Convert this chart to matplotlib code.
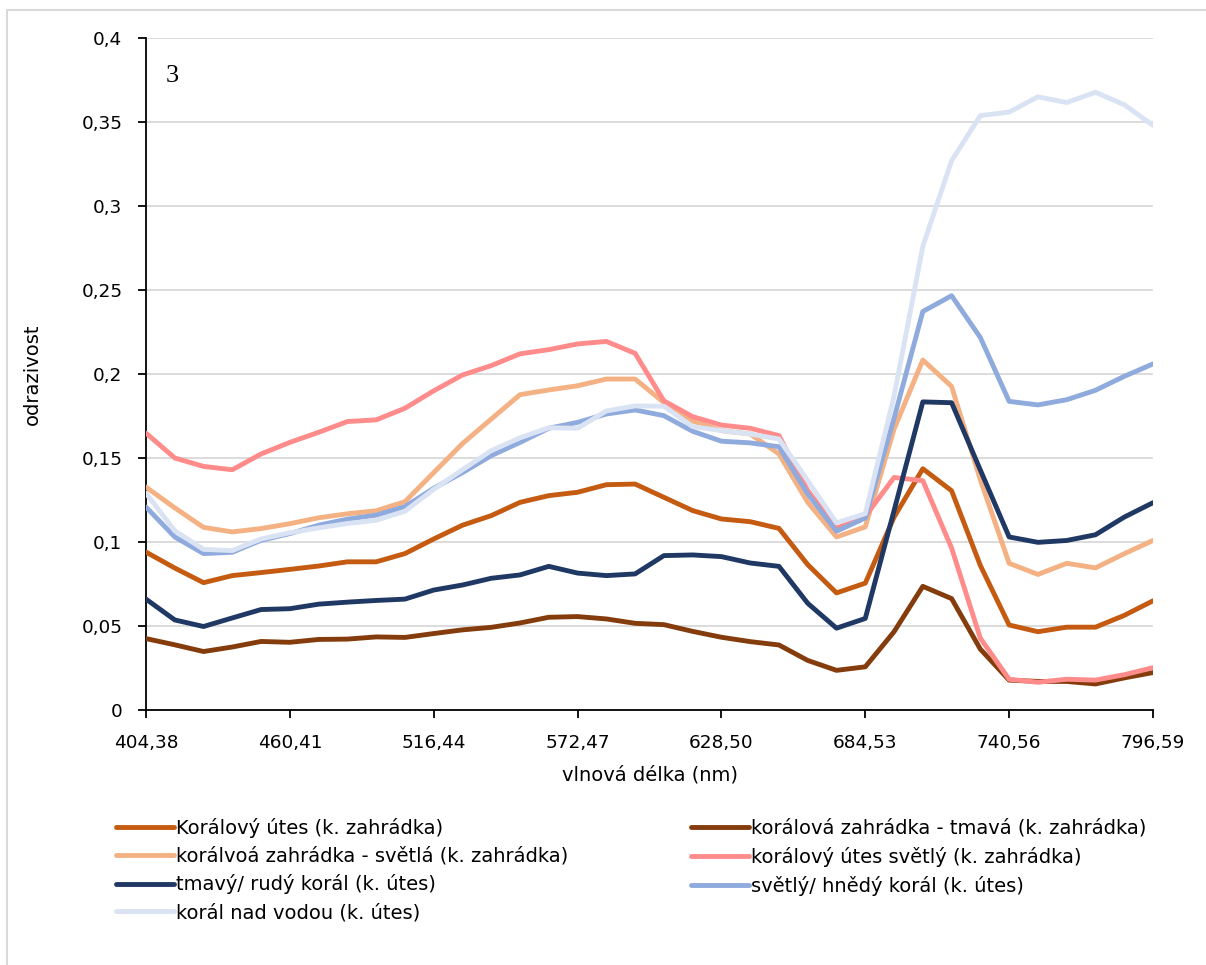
import matplotlib
matplotlib.use("Agg")
import matplotlib.pyplot as plt
from matplotlib.patches import Rectangle
from matplotlib.ticker import FuncFormatter

# vlnove delky (nm) - kategorie na ose x
wavelengths = [404.38, 415.59, 426.79, 438.00, 449.20, 460.41, 471.62, 482.82, 494.03,
               505.23, 516.44, 527.65, 538.85, 550.06, 561.26, 572.47, 583.68, 594.88,
               606.09, 617.29, 628.50, 639.71, 650.91, 662.12, 673.32, 684.53, 695.74,
               706.94, 718.15, 729.35, 740.56, 751.77, 762.97, 774.18, 785.38, 796.59]
tick_labels = [404.38, 460.41, 516.44, 572.47, 628.50, 684.53, 740.56, 796.59]

utes_zahradka = [0.094, 0.0845, 0.0758, 0.080, 0.0818, 0.0837, 0.0857, 0.0882, 0.0882,
                 0.0931, 0.1018, 0.110, 0.1157, 0.1236, 0.1276, 0.1296, 0.1341, 0.1345,
                 0.1266, 0.1187, 0.1137, 0.1121, 0.1081, 0.0865, 0.0697, 0.0755, 0.1148,
                 0.1436, 0.1305, 0.086, 0.0506, 0.0466, 0.0493, 0.0493, 0.0563, 0.065]
zahradka_tmava = [0.0425, 0.0388, 0.0348, 0.0375, 0.0408, 0.0403, 0.042, 0.0422, 0.0435,
                  0.0432, 0.0455, 0.0477, 0.0492, 0.0518, 0.0552, 0.0556, 0.0542, 0.0516,
                  0.0508, 0.0468, 0.0433, 0.0407, 0.0387, 0.0295, 0.0236, 0.0257, 0.0466,
                  0.0736, 0.0663, 0.0362, 0.0178, 0.017, 0.017, 0.0155, 0.0191, 0.0223]
zahradka_svetla = [0.1327, 0.1203, 0.1087, 0.106, 0.108, 0.1109, 0.1144, 0.1168, 0.1186,
                   0.124, 0.1413, 0.1586, 0.1732, 0.1877, 0.1905, 0.193, 0.197, 0.197,
                   0.183, 0.172, 0.1663, 0.1643, 0.1524, 0.1236, 0.103, 0.109, 0.1672,
                   0.2083, 0.1926, 0.137, 0.0873, 0.0807, 0.0873, 0.0846, 0.093, 0.1009]
utes_svetly = [0.1648, 0.150, 0.145, 0.143, 0.1524, 0.1593, 0.1653, 0.1717, 0.1727,
               0.1796, 0.190, 0.1994, 0.205, 0.212, 0.2145, 0.2179, 0.2194, 0.2123,
               0.184, 0.1746, 0.1696, 0.1677, 0.1633, 0.1306, 0.1082, 0.1153, 0.1384,
               0.1365, 0.0964, 0.0427, 0.0183, 0.0165, 0.0183, 0.0178, 0.021, 0.0252]
tmavy_rudy = [0.066, 0.0536, 0.0497, 0.0548, 0.0598, 0.0603, 0.063, 0.0642, 0.0652,
              0.066, 0.0714, 0.0744, 0.0784, 0.0804, 0.0855, 0.0815, 0.080, 0.081,
              0.0919, 0.0923, 0.0913, 0.0875, 0.0855, 0.0635, 0.0487, 0.0545, 0.1187,
              0.1834, 0.1829, 0.1428, 0.103, 0.0998, 0.1009, 0.1043, 0.1148, 0.1234]
svetly_hnedy = [0.1208, 0.103, 0.0931, 0.0939, 0.101, 0.105, 0.110, 0.1136, 0.116,
                0.121, 0.132, 0.1413, 0.1514, 0.1593, 0.1677, 0.1712, 0.1762, 0.1786,
                0.1752, 0.1659, 0.160, 0.159, 0.1567, 0.1286, 0.1064, 0.1143, 0.1737,
                0.2372, 0.2466, 0.2217, 0.1837, 0.1816, 0.1847, 0.1903, 0.1986, 0.206]
nad_vodou = [0.129, 0.1067, 0.0956, 0.0949, 0.1018, 0.1055, 0.1084, 0.111, 0.1129,
             0.1183, 0.1314, 0.143, 0.1544, 0.162, 0.168, 0.1677, 0.178, 0.181,
             0.1808, 0.1687, 0.1663, 0.1643, 0.1613, 0.1365, 0.1114, 0.1169, 0.1868,
             0.276, 0.327, 0.3538, 0.3559, 0.365, 0.3616, 0.3677, 0.3603, 0.348]

series = [
    ("Korálový útes (k. zahrádka)", utes_zahradka, "#C55A11"),
    ("korálová zahrádka - tmavá (k. zahrádka)", zahradka_tmava, "#843C0C"),
    ("korálvoá zahrádka - světlá (k. zahrádka)", zahradka_svetla, "#F4B183"),
    ("korálový útes světlý (k. zahrádka)", utes_svetly, "#FF8B8B"),
    ("tmavý/ rudý korál (k. útes)", tmavy_rudy, "#203864"),
    ("světlý/ hnědý korál (k. útes)", svetly_hnedy, "#8FAADC"),
    ("korál nad vodou (k. útes)", nad_vodou, "#DAE3F3"),
]

plt.rcParams['font.family'] = ['DejaVu Sans']

fig = plt.figure(figsize=(12.06, 9.65), dpi=100)
ax = fig.add_axes([146/1206, 1-710/965, 1007/1206, 672/965])

# ramecek grafu (vpravo a dole oriznuty)
fig.patches.append(Rectangle((7/1206, -0.05), 1.1, 1-10/965+0.05, transform=fig.transFigure,
                             fill=False, edgecolor="#D9D9D9", linewidth=1.5))

handles = []
for name, vals, col in series:
    h, = ax.plot(wavelengths, vals, color=col, linewidth=3.5, label=name,
                 solid_joinstyle='round', solid_capstyle='round', zorder=3)
    handles.append(h)

ax.set_xlim(wavelengths[0], wavelengths[-1])
ax.set_ylim(0, 0.4)
ax.set_yticks([i * 0.05 for i in range(9)])
ax.yaxis.set_major_formatter(FuncFormatter(
    lambda v, p: ("%.2f" % v).rstrip('0').rstrip('.').replace('.', ',')))
ax.set_xticks(tick_labels)
ax.set_xticklabels([("%.2f" % t).replace('.', ',') for t in tick_labels])

ax.grid(axis='y', color="#D9D9D9", linewidth=1.3, zorder=0)
ax.set_axisbelow(True)
for s in ['top', 'right']:
    ax.spines[s].set_visible(False)
ax.spines['left'].set_linewidth(1.3)
ax.spines['bottom'].set_linewidth(1.3)
ax.tick_params(axis='both', direction='out', length=6, width=1.3, labelsize=13.3)
ax.tick_params(axis='y', pad=11)
ax.tick_params(axis='x', pad=11)

ax.set_xlabel("vlnová délka (nm)", fontsize=14, va='center')
ax.set_ylabel("odrazivost", fontsize=14, va='center')
ax.xaxis.set_label_coords(0.5, (710-775)/672)
ax.yaxis.set_label_coords((32-146)/1007, 0.5)

fig.text(166/1206, 1-76/965, "3", family="Liberation Serif", fontsize=19, va='center')

order = [0, 2, 4, 6, 1, 3, 5]
fig.legend([handles[i] for i in order], [series[i][0] for i in order],
           loc='upper left', bbox_to_anchor=(116/1206, 1-818/965), ncol=2,
           frameon=False, fontsize=14, handlelength=3.0, handletextpad=0.1,
           labelspacing=0.45, columnspacing=6.3, borderaxespad=0, borderpad=0)

fig.savefig("out.png", dpi=100)
